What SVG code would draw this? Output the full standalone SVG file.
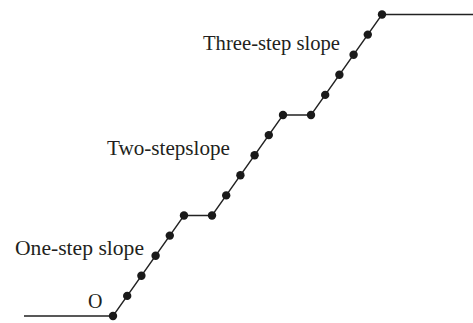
<svg xmlns="http://www.w3.org/2000/svg" width="473" height="323" viewBox="0 0 473 323">
<style>
.ln{fill:none;stroke:#222;stroke-width:1.3}
.dot{fill:#1a1a1a}
.t{font-family:"Liberation Serif","Times New Roman",serif;font-size:20px;fill:#231f20}
</style>
<rect width="473" height="323" fill="#fff"/>
<g id="connectors">
<polyline class="ln" points="24,316 113,316 184,215.5 212,215.5 283,115 311,115 382,14.5 473,14.5"/>
</g>
<g id="points">
<circle class="dot" cx="113" cy="316" r="4.2"/>
<circle class="dot" cx="127.2" cy="295.9" r="4.2"/>
<circle class="dot" cx="141.4" cy="275.8" r="4.2"/>
<circle class="dot" cx="155.6" cy="255.7" r="4.2"/>
<circle class="dot" cx="169.8" cy="235.6" r="4.2"/>
<circle class="dot" cx="184" cy="215.5" r="4.2"/>
<circle class="dot" cx="212" cy="215.5" r="4.2"/>
<circle class="dot" cx="226.2" cy="195.4" r="4.2"/>
<circle class="dot" cx="240.4" cy="175.3" r="4.2"/>
<circle class="dot" cx="254.6" cy="155.2" r="4.2"/>
<circle class="dot" cx="268.8" cy="135.1" r="4.2"/>
<circle class="dot" cx="283" cy="115" r="4.2"/>
<circle class="dot" cx="311" cy="115" r="4.2"/>
<circle class="dot" cx="325.2" cy="94.9" r="4.2"/>
<circle class="dot" cx="339.4" cy="74.8" r="4.2"/>
<circle class="dot" cx="353.6" cy="54.7" r="4.2"/>
<circle class="dot" cx="367.8" cy="34.6" r="4.2"/>
<circle class="dot" cx="382" cy="14.5" r="4.2"/>
</g>
<g id="labels">
<text class="t" x="88" y="308">O</text>
<text class="t" x="15" y="255" textLength="129" lengthAdjust="spacingAndGlyphs">One-step slope</text>
<text class="t" x="107" y="155" textLength="123" lengthAdjust="spacingAndGlyphs">Two-stepslope</text>
<text class="t" x="203" y="50" textLength="137" lengthAdjust="spacingAndGlyphs">Three-step slope</text>
</g>
</svg>
